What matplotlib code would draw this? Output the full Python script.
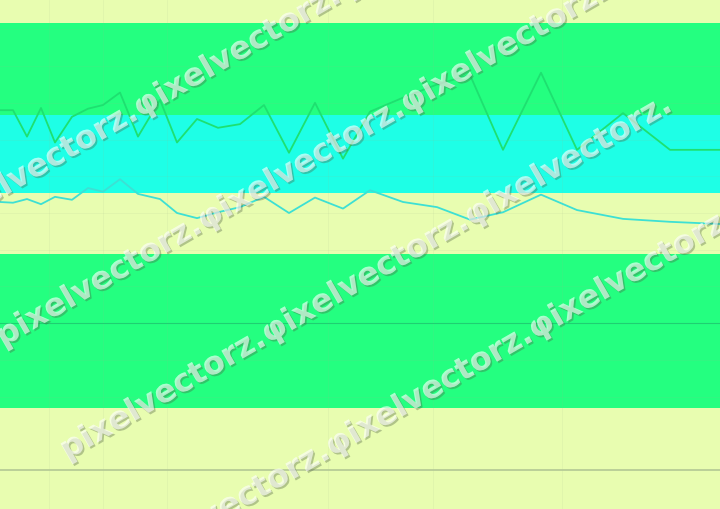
import matplotlib
matplotlib.use('Agg')
import matplotlib.pyplot as plt
import matplotlib.patheffects as pe

# x positions of the samples and the two series
x_pos = [0, 13, 27, 41, 55, 72, 88, 103, 120, 138, 160, 177, 197, 218, 240,
         264, 289, 315, 343, 370, 403, 437, 470, 503, 541, 577, 623, 670, 720]
green_vals = [49.0, 49.0, 45.4, 49.3, 44.6, 48.1, 49.2, 49.7, 51.4, 45.4,
              50.4, 44.6, 47.8, 46.6, 47.1, 49.7, 43.2, 50.0, 42.4, 48.8,
              50.7, 52.5, 53.8, 43.6, 54.1, 43.6, 48.6, 43.6, 43.6]
cyan_vals = [36.5, 36.4, 36.9, 36.2, 37.2, 36.8, 38.4, 37.9, 39.6, 37.6,
             36.9, 35.0, 34.3, 35.1, 35.8, 37.2, 35.0, 37.1, 35.6, 38.1,
             36.5, 35.8, 34.1, 35.1, 37.5, 35.4, 34.2, 33.8, 33.5]

# horizontal bands (low, high, colour)
band_lows = [48.4, 37.7, 8.4]
band_highs = [60.9, 48.4, 29.4]
band_colors = ['#24ff80', '#1effe6', '#24ff80']

grid_y = [10, 15, 25, 30, 35, 40, 45, 50, 55, 60]
grid_x = [49, 103, 167, 328, 433, 562]

watermark = 'pixelvectorz.φixelvectorz.φixelvectorz.'
# start of each watermark row, in figure pixels from the top-left
wm_x = [-61, 3, 67, 131]
wm_y = [234, 347, 460, 573]

fig = plt.figure(figsize=(7.2, 5.09), dpi=100)
fig.patch.set_facecolor('#e8fdb0')
ax = fig.add_axes([0, 0, 1, 1])
ax.set_facecolor('#e8fdb0')
ax.set_xlim(0, 720)
ax.set_ylim(-5.3, 64)
ax.axis('off')

for lo, hi, c in zip(band_lows, band_highs, band_colors):
    ax.axhspan(lo, hi, color=c, lw=0, zorder=2)

# faint grid, only just visible over the bands
for gy in grid_y:
    ax.axhline(gy, color='#9fb88a', lw=0.6, alpha=0.12, zorder=3)
for gx in grid_x:
    ax.axvline(gx, color='#9fb88a', lw=0.6, alpha=0.12, zorder=3)

ax.axhline(20, color='#1fcf72', lw=0.8, zorder=3)
ax.axhline(0, color='#b2c894', lw=1.2, zorder=3)

ax.plot(x_pos, green_vals, color='#1ee070', lw=1.3, zorder=4)
ax.plot(x_pos, cyan_vals, color='#3de0d4', lw=1.3, zorder=4)

for sx, sy in zip(wm_x, wm_y):
    fig.text(sx / 720, 1 - sy / 509, watermark, fontsize=23, fontweight='bold',
             color='white', alpha=0.38, rotation=30, rotation_mode='anchor',
             ha='left', va='baseline', zorder=10,
             path_effects=[pe.withSimplePatchShadow(offset=(1.2, -1.2),
                                                    shadow_rgbFace='#4a5a40',
                                                    alpha=0.35),
                           pe.Normal()])

fig.savefig('out.png', dpi=100)
